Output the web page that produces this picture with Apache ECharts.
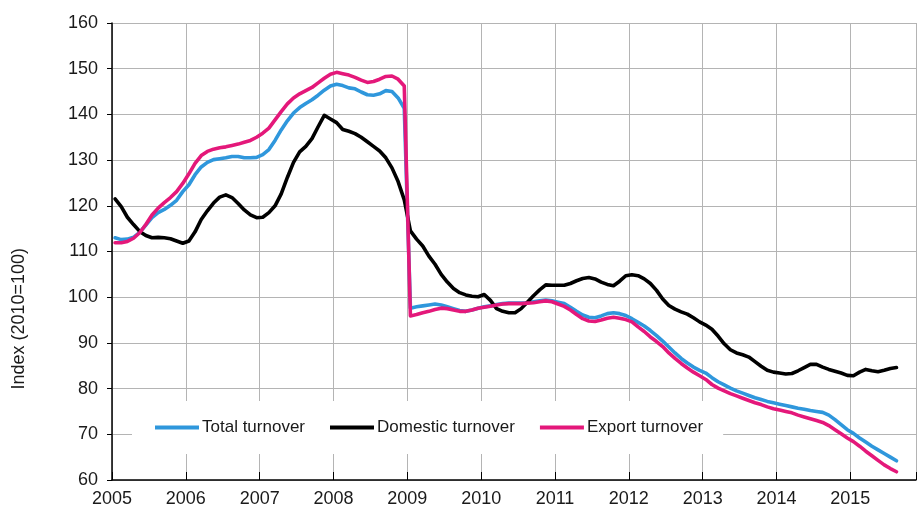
<!DOCTYPE html>
<html>
<head>
<meta charset="utf-8">
<script src="https://cdn.jsdelivr.net/npm/echarts@6/dist/echarts.min.js"></script>
<style>
html,body{margin:0;padding:0;background:#fff;}
#chart{width:919px;height:514px;}
</style>
</head>
<body>
<div id="chart"></div>
<script>
// Monthly data, January 2005 – August 2015 (Index 2010=100)
var startYear = 2005;
var yTicks = [60, 70, 80, 90, 100, 110, 120, 130, 140, 150, 160];
var xTickYears = [2005, 2006, 2007, 2008, 2009, 2010, 2011, 2012, 2013, 2014, 2015];
var seriesNames = ['Total turnover', 'Domestic turnover', 'Export turnover'];

var totalTurnover = [
113.0, 112.6, 112.7, 113.1, 114.2, 115.8, 117.4, 118.5, 119.2, 120.1, 121.2, 123.1,
124.6, 126.8, 128.5, 129.5, 130.1, 130.3, 130.5, 130.8, 130.8, 130.5, 130.5, 130.6,
131.2, 132.3, 134.3, 136.6, 138.6, 140.3, 141.5, 142.4, 143.2, 144.2, 145.3, 146.2,
146.6, 146.3, 145.8, 145.6, 144.9, 144.3, 144.2, 144.5, 145.2, 145.0, 143.6, 141.3,
97.6, 97.9, 98.1, 98.3, 98.5, 98.3, 97.9, 97.5, 97.1, 96.9, 97.2, 97.6,
97.9, 98.1, 98.4, 98.6, 98.7, 98.7, 98.7, 98.8, 99.0, 99.2, 99.4, 99.2,
98.9, 98.6, 97.8, 96.9, 96.1, 95.6, 95.5, 95.9, 96.4, 96.6, 96.4, 96.0,
95.3, 94.5, 93.7, 92.7, 91.6, 90.4, 89.1, 87.8, 86.6, 85.6, 84.7, 84.0,
83.4, 82.4, 81.5, 80.8, 80.1, 79.5, 79.0, 78.5, 78.0, 77.6, 77.2, 76.9,
76.6, 76.3, 76.0, 75.7, 75.5, 75.2, 75.0, 74.8, 74.2, 73.2, 72.1, 71.0,
70.2, 69.2, 68.3, 67.4, 66.6, 65.8, 65.0, 64.2
];

var domesticTurnover = [
121.5, 119.8, 117.5, 115.9, 114.4, 113.5, 113.0, 113.1, 113.0, 112.8, 112.3, 111.8,
112.3, 114.3, 117.0, 118.9, 120.6, 121.9, 122.4, 121.8, 120.5, 119.1, 118.0, 117.4,
117.5, 118.5, 120.0, 122.6, 126.2, 129.5, 131.8, 133.0, 134.7, 137.3, 139.8, 139.0,
138.2, 136.7, 136.3, 135.8, 135.0, 134.0, 133.0, 132.0, 130.5, 128.3, 125.3, 121.3,
114.5, 112.7, 111.2, 109.0, 107.2, 105.0, 103.3, 101.9, 101.0, 100.5, 100.2, 100.1,
100.6, 99.3, 97.5, 96.9, 96.6, 96.6, 97.5, 98.9, 100.3, 101.6, 102.7, 102.6,
102.6, 102.6, 103.0, 103.6, 104.1, 104.3, 104.0, 103.3, 102.8, 102.5, 103.5, 104.7,
104.9, 104.7, 104.0, 103.0, 101.5, 99.6, 98.2, 97.4, 96.8, 96.3, 95.5, 94.6,
93.9, 93.0, 91.5, 89.8, 88.5, 87.8, 87.4, 86.9, 85.9, 84.9, 84.0, 83.6,
83.4, 83.2, 83.3, 83.9, 84.6, 85.3, 85.3, 84.7, 84.2, 83.8, 83.4, 82.9,
82.8, 83.6, 84.2, 83.9, 83.7, 84.0, 84.4, 84.6
];

var exportTurnover = [
111.9, 111.9, 112.2, 112.9, 114.1, 115.9, 118.0, 119.5, 120.7, 121.8, 123.1, 124.9,
127.0, 129.3, 131.0, 131.9, 132.4, 132.7, 132.9, 133.2, 133.5, 133.9, 134.3, 135.0,
135.9, 137.0, 138.8, 140.6, 142.3, 143.6, 144.5, 145.2, 145.9, 146.9, 147.9, 148.8,
149.2, 148.9, 148.6, 148.1, 147.5, 147.0, 147.2, 147.7, 148.3, 148.4, 147.7, 146.2,
95.9, 96.2, 96.6, 96.9, 97.3, 97.6, 97.5, 97.2, 96.9, 96.9, 97.2, 97.6,
97.8, 98.0, 98.3, 98.5, 98.6, 98.6, 98.6, 98.7, 98.8, 99.0, 99.2, 99.0,
98.5, 98.0, 97.2, 96.2, 95.3, 94.8, 94.7, 95.0, 95.4, 95.6, 95.4, 95.1,
94.6, 93.5, 92.5, 91.3, 90.3, 89.2, 87.8, 86.6, 85.5, 84.5, 83.6, 82.8,
82.0, 80.9, 80.1, 79.5, 78.9, 78.4, 77.9, 77.4, 76.9, 76.5, 76.0, 75.6,
75.3, 75.0, 74.7, 74.2, 73.8, 73.4, 73.0, 72.6, 71.9, 71.0, 70.1, 69.2,
68.4, 67.4, 66.3, 65.3, 64.3, 63.3, 62.5, 61.8
];

// month positions (mid-month, in decimal years)
var months = [];
for (var i = 0; i < totalTurnover.length; i++) {
  months.push(startYear + (i + 0.5) / 12);
}
function pairs(vals) {
  return vals.map(function (v, i) { return [months[i], v]; });
}

var chart = echarts.init(document.getElementById('chart'), null, {renderer: 'canvas'});
var FONT = '"Liberation Sans", Arial, sans-serif';
var colors = ['#2f97dc', '#000000', '#e4187a'];

var option = {
  animation: false,
  backgroundColor: '#ffffff',
  grid: {left: 112, right: -1, top: 23, bottom: 34, containLabel: false},
  xAxis: {
    type: 'value',
    min: xTickYears[0],
    max: 2015.889,
    interval: 1,
    axisLine: {show: true, onZero: false, lineStyle: {color: '#000', width: 1.5}},
    axisTick: {show: true, inside: true, length: 8, lineStyle: {color: '#000', width: 1}},
    axisLabel: {
      color: '#1a1a1a', fontSize: 18, fontFamily: FONT, margin: 10,
      formatter: function (v) { return xTickYears.indexOf(Math.round(v * 1000) / 1000) >= 0 ? String(v) : ''; }
    },
    splitLine: {show: true, lineStyle: {color: '#b4b4b4', width: 1}}
  },
  yAxis: {
    type: 'value',
    min: yTicks[0],
    max: yTicks[yTicks.length - 1],
    interval: 10,
    axisLine: {show: true, lineStyle: {color: '#000', width: 1.5}},
    axisTick: {show: true, inside: false, length: 5, lineStyle: {color: '#000', width: 1}},
    axisLabel: {color: '#1a1a1a', fontSize: 18, fontFamily: FONT, margin: 14},
    splitLine: {show: true, lineStyle: {color: '#b4b4b4', width: 1}}
  },
  legend: {
    left: 132,
    top: 401,
    backgroundColor: '#ffffff',
    padding: [18, 20, 18, 23],
    itemGap: 25,
    itemWidth: 44,
    itemHeight: 4,
    icon: 'rect',
    textStyle: {fontSize: 17, fontFamily: FONT, color: '#1a1a1a', padding: [0, 0, 0, -2]},
    data: seriesNames
  },
  graphic: [{
    type: 'text',
    left: 10,
    top: 248,
    rotation: Math.PI / 2,
    style: {text: 'Index (2010=100)', fontSize: 18, fontFamily: FONT, fill: '#1a1a1a'}
  }],
  series: [
    {name: seriesNames[0], type: 'line', data: pairs(totalTurnover), symbol: 'none', color: colors[0],
     lineStyle: {width: 3.6, color: colors[0], cap: 'round', join: 'round'}, z: 2},
    {name: seriesNames[1], type: 'line', data: pairs(domesticTurnover), symbol: 'none', color: colors[1],
     lineStyle: {width: 3.6, color: colors[1], cap: 'round', join: 'round'}, z: 3},
    {name: seriesNames[2], type: 'line', data: pairs(exportTurnover), symbol: 'none', color: colors[2],
     lineStyle: {width: 3.6, color: colors[2], cap: 'round', join: 'round'}, z: 4}
  ]
};
chart.setOption(option);
</script>
</body>
</html>
